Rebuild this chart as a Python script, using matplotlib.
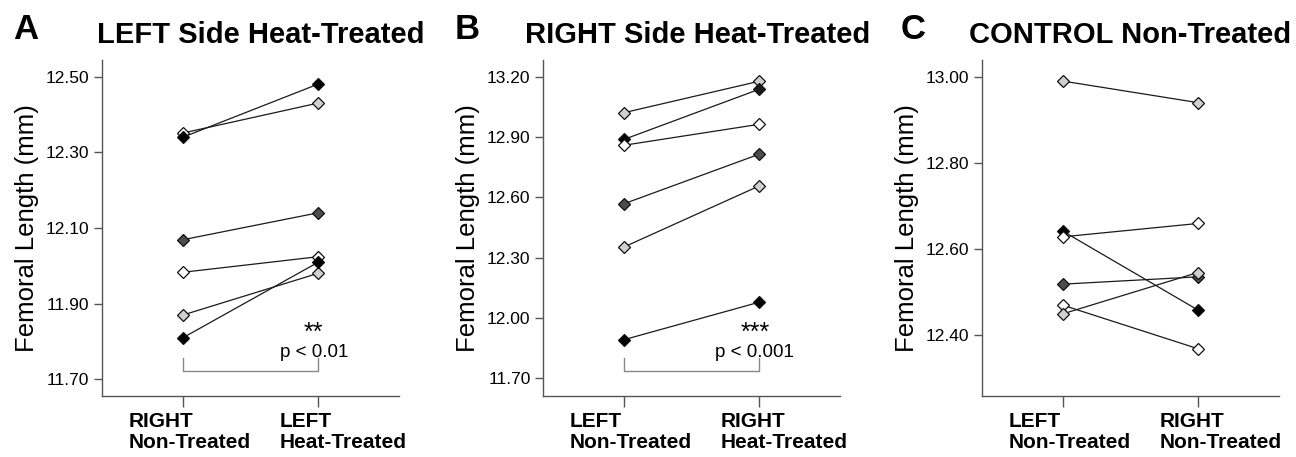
import matplotlib.pyplot as plt
from matplotlib import transforms

plt.rcParams['font.family'] = ['Liberation Sans', 'DejaVu Sans']

# Panel A - LEFT side heat-treated
a_before = [12.351, 12.340, 12.069, 11.983, 11.870, 11.810]
a_after = [12.430, 12.480, 12.140, 12.024, 11.980, 12.009]
a_fill = ['#ffffff', '#000000', '#4d4d4d', '#ffffff', '#d0d0d0', '#000000']
a_fill_after = ['#d0d0d0', '#000000', '#4d4d4d', '#ffffff', '#d0d0d0', '#000000']
a_ticks = [11.70, 11.90, 12.10, 12.30, 12.50]
a_labels = ["RIGHT\nNon-Treated", "LEFT\nHeat-Treated"]

# Panel B - RIGHT side heat-treated
b_before = [13.021, 12.888, 12.859, 12.568, 12.353, 11.892]
b_after = [13.177, 13.137, 12.963, 12.814, 12.656, 12.078]
b_fill = ['#d0d0d0', '#000000', '#ffffff', '#4d4d4d', '#d0d0d0', '#000000']
b_fill_after = ['#d0d0d0', '#1a1a1a', '#ffffff', '#4d4d4d', '#d0d0d0', '#000000']
b_ticks = [11.70, 12.00, 12.30, 12.60, 12.90, 13.20]
b_labels = ["LEFT\nNon-Treated", "RIGHT\nHeat-Treated"]

# Panel C - control
c_before = [12.990, 12.641, 12.628, 12.518, 12.469, 12.449]
c_after = [12.940, 12.458, 12.659, 12.535, 12.368, 12.545]
c_fill = ['#d0d0d0', '#000000', '#ffffff', '#4d4d4d', '#ffffff', '#d0d0d0']
c_fill_after = ['#d0d0d0', '#000000', '#ffffff', '#4d4d4d', '#ffffff', '#d0d0d0']
c_ticks = [12.40, 12.60, 12.80, 13.00]
c_labels = ["LEFT\nNon-Treated", "RIGHT\nNon-Treated"]

fig = plt.figure(figsize=(12.96, 4.57), dpi=100)

panels = [
    (0.0787, a_before, a_after, a_fill, a_fill_after, a_ticks, (11.656, 12.544), a_labels,
     "A", "LEFT Side Heat-Treated", 0.010, 0.075, ("**", "p < 0.01")),
    (0.4190, b_before, b_after, b_fill, b_fill_after, b_ticks, (11.612, 13.283), b_labels,
     "B", "RIGHT Side Heat-Treated", 0.351, 0.405, ("***", "p < 0.001")),
    (0.7577, c_before, c_after, c_fill, c_fill_after, c_ticks, (12.258, 13.039), c_labels,
     "C", "CONTROL Non-Treated", 0.695, 0.748, None),
]

for (left, before, after, fill, fill2, ticks, ylim, xlabels,
     letter, title, lx, tx, sig) in panels:
    ax = fig.add_axes([left, 0.1335, 0.2290, 0.7352])
    for i in range(len(before)):
        ax.plot([0, 1], [before[i], after[i]], color='#1a1a1a', lw=0.9, zorder=2)
    for i in range(len(before)):
        ax.plot(0, before[i], marker='D', ms=6.2, mfc=fill[i], mec='#111111', mew=0.9, zorder=3)
        ax.plot(1, after[i], marker='D', ms=6.2, mfc=fill2[i], mec='#111111', mew=0.9, zorder=3)

    ax.set_xlim(-0.6, 1.6)
    ax.set_ylim(*ylim)
    ax.set_yticks(ticks)
    ax.set_yticklabels([f"{t:.2f}" for t in ticks], fontsize=12.5)
    ax.set_xticks([0, 1])
    ax.set_xticklabels([])
    ax.tick_params(axis='y', length=6, width=1, color='#555555', pad=3)
    ax.tick_params(axis='x', length=8, width=1, color='#555555')
    for s in ['top', 'right']:
        ax.spines[s].set_visible(False)
    for s in ['left', 'bottom']:
        ax.spines[s].set_color('#555555')
        ax.spines[s].set_linewidth(1.0)
    ax.set_ylabel("Femoral Length (mm)", fontsize=18.5, labelpad=5)

    trans = transforms.blended_transform_factory(ax.transData, ax.transAxes)
    ax.text(-0.40, -0.048, xlabels[0], transform=trans, ha='left', va='top',
            fontsize=15, fontweight='bold', linespacing=1.15)
    ax.text(0.72, -0.048, xlabels[1], transform=trans, ha='left', va='top',
            fontsize=15, fontweight='bold', linespacing=1.15)

    if sig is not None:
        # significance bracket between the two groups
        ax.plot([0, 0, 1, 1], [0.112, 0.075, 0.075, 0.112], transform=trans,
                color='#888888', lw=1.0, clip_on=False)
        ax.text(0.97, 0.188, sig[0], transform=trans, ha='center', va='center', fontsize=18)
        ax.text(0.97, 0.128, sig[1], transform=trans, ha='center', va='center', fontsize=13.5)

    fig.text(lx, 0.915, letter, fontsize=25, fontweight='bold', va='baseline', ha='left')
    fig.text(tx, 0.906, title, fontsize=21, fontweight='bold', va='baseline', ha='left')

fig.savefig("out.png", dpi=100)
